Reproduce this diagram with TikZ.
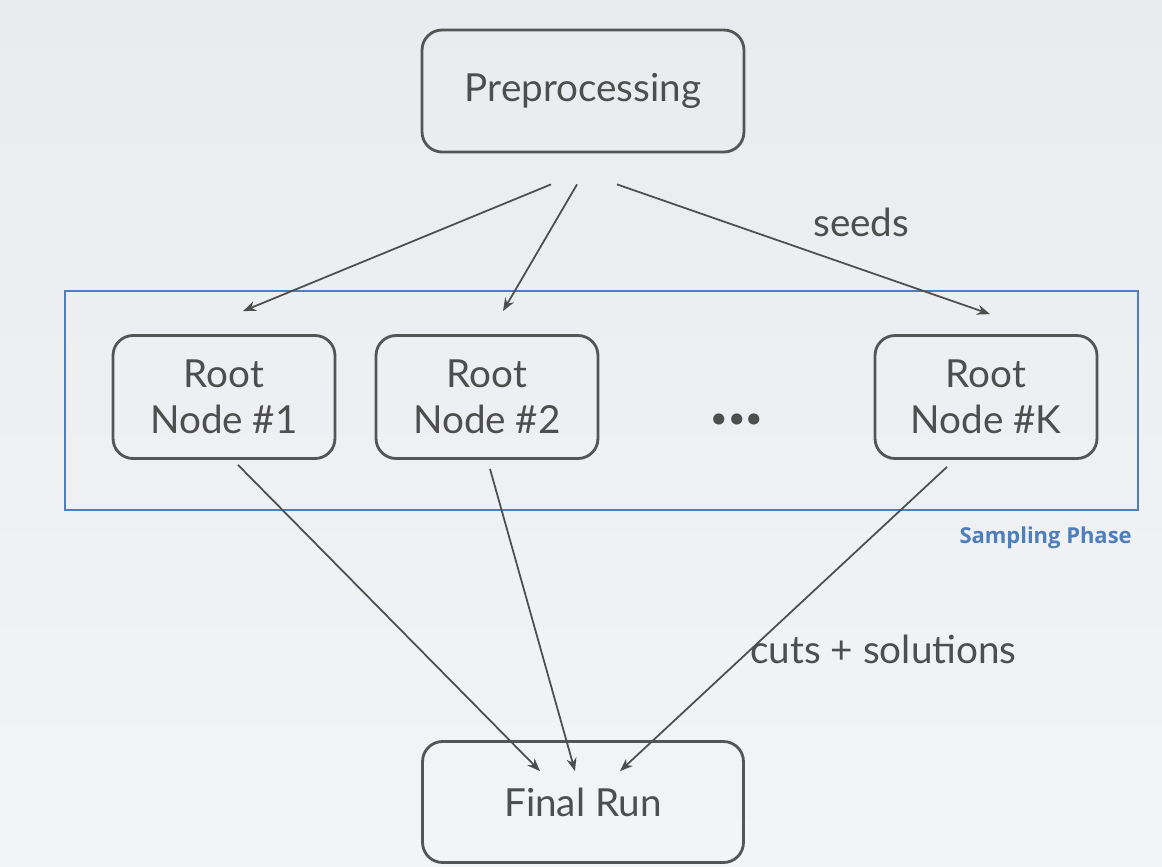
\documentclass[tikz,border=0pt]{standalone}
\usepackage{fontspec}
\setmainfont{Lato}
\newfontfamily\phasefont{Open Sans}
\usetikzlibrary{calc, arrows.meta}
\definecolor{boxline}{RGB}{85,85,85}
\definecolor{textgray}{RGB}{78,78,78}
\definecolor{phaseblue}{RGB}{79,126,186}
\definecolor{bgtop}{RGB}{233,235,238}
\definecolor{bgbot}{RGB}{243,244,246}

\begin{document}
\begin{tikzpicture}[x=0.02cm, y=-0.02cm,
    box/.style={draw=boxline, line width=1.6pt, rounded corners=0.4cm, text=textgray,
        font=\fontsize{22}{26}\selectfont, align=center, inner sep=0pt},
    arr/.style={-{Stealth[length=0.26cm, width=0.2cm]}, draw=textgray, line width=1pt},
    lbl/.style={text=textgray, font=\fontsize{22}{26}\selectfont, inner sep=0pt}]
    % Background
    \shade[top color=bgtop, bottom color=bgbot] (0,0) rectangle (1162,866);
    \useasboundingbox (0,0) rectangle (1162,866);
    % Sampling phase frame
    \draw[phaseblue, line width=1.1pt] (65,291) rectangle (1138,510);
    \node[anchor=base east, inner sep=0pt, text=phaseblue, font=\phasefont\bfseries\fontsize{12.5}{15}\selectfont] (phase) at (1132,543) {Sampling Phase};
    % Boxes
    \node[box, minimum width=6.44cm, minimum height=2.44cm] (pre) at (583,91) {Preprocessing};
    \node[box, minimum width=4.44cm, minimum height=2.46cm] (r1) at (224,397) {Root\\Node \#1};
    \node[box, minimum width=4.44cm, minimum height=2.46cm] (r2) at (487,397) {Root\\Node \#2};
    \node[box, minimum width=4.44cm, minimum height=2.46cm] (rk) at (986,397) {Root\\Node \#K};
    \node[text=textgray, font=\bfseries\fontsize{42}{42}\selectfont, inner sep=0pt] (dots) at (737,419) {...};
    \node[box, minimum width=6.42cm, minimum height=2.42cm] (fin) at (583,802) {Final Run};
    % Seeds
    \draw[arr] ($(pre.south)+(-32,31)$) -- ($(r1.north)+(19,-23)$);
    \draw[arr] ($(pre.south)+(-6,31)$) -- ($(r2.north)+(16,-23)$);
    \draw[arr] ($(pre.south)+(34,31)$) -- ($(rk.north)+(4,-20)$);
    \node[lbl, anchor=base west] (seeds) at (813,236) {seeds};
    % Cuts and solutions
    \draw[arr] ($(r1.south)+(14,5)$) -- ($(fin.north)+(-43,31)$);
    \draw[arr] ($(r2.south)+(3,9)$) -- ($(fin.north)+(-8,31)$);
    \draw[arr] ($(rk.south)+(-39,7)$) -- ($(fin.north)+(37,31)$);
    \node[lbl, anchor=base west] (cuts) at (750,663) {cuts + solutions};
\end{tikzpicture}
\end{document}
